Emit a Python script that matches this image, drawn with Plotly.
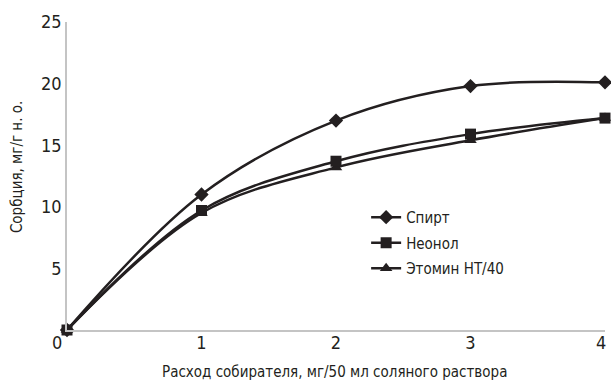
import plotly.graph_objects as go

x_vals = [0, 1, 2, 3, 4]
spirt = [0, 11.0, 17.0, 19.8, 20.1]
neonol = [0, 9.7, 13.7, 15.9, 17.2]
etomin = [0, 9.5, 13.2, 15.4, 17.2]
names = ["Спирт", "Неонол", "Этомин НТ/40"]
symbols = ["diamond", "square", "triangle-up"]
y_ticks = [5, 10, 15, 20, 25]
x_ticks = [1, 2, 3]
corner_labels = ["0", "4"]
x_title = "Расход собирателя, мг/50 мл соляного раствора"
y_title = "Сорбция, мг/г н. о."

FONT = "DejaVu Sans Condensed, sans-serif"
INK = "#231f20"
AX = "#c4c4c4"

series = [spirt, neonol, etomin]
# draw order: Спирт, Этомин, Неонол (square on top); legend order kept by rank
order = [0, 2, 1]
fig = go.Figure()
for i in order:
    fig.add_trace(go.Scatter(
        x=x_vals, y=series[i], name=names[i], mode="lines+markers",
        legendrank=i + 1, legendgroup=names[i],
        line=dict(color=INK, width=2.5, shape="spline", smoothing=1),
        marker=dict(symbol=symbols[i], size=11, color=INK),
        cliponaxis=False,
    ))

fig.update_layout(
    width=611, height=385,
    margin=dict(l=67, r=6, t=22, b=55),
    paper_bgcolor="white", plot_bgcolor="white",
    font=dict(family=FONT, color=INK, size=15),
    showlegend=True,
    legend=dict(x=0.556, y=0.419, xanchor="left", yanchor="top",
                bgcolor="rgba(0,0,0,0)", font=dict(size=15, family=FONT, color=INK),
                tracegroupgap=3, itemwidth=30),
    xaxis=dict(range=[0, 4], tickvals=x_ticks, showgrid=False, zeroline=False,
               showline=True, linecolor=AX, linewidth=1.5, ticks="",
               automargin=False, ticklabelstandoff=-4,
               tickfont=dict(size=18, family=FONT, color=INK)),
    yaxis=dict(range=[0, 25], tickvals=y_ticks, showgrid=False, zeroline=False,
               showline=True, linecolor=AX, linewidth=1.5, ticks="",
               automargin=False,
               tickfont=dict(size=18, family=FONT, color=INK)),
    annotations=[
        dict(text=corner_labels[0], xref="paper", yref="paper", x=-0.0186, y=-0.042,
             showarrow=False, font=dict(size=18, family=FONT, color=INK),
             xanchor="center", yanchor="middle"),
        dict(text=corner_labels[1], xref="paper", yref="paper", x=0.9926, y=-0.042,
             showarrow=False, font=dict(size=18, family=FONT, color=INK),
             xanchor="center", yanchor="middle"),
        dict(text=x_title, xref="paper", yref="paper", x=0.497, y=-0.136,
             showarrow=False, font=dict(size=15, family=FONT, color=INK),
             xanchor="center", yanchor="middle"),
        dict(text=y_title, xref="paper", yref="paper", x=-0.0929, y=0.529,
             textangle=-90, showarrow=False, font=dict(size=15, family=FONT, color=INK),
             xanchor="center", yanchor="middle"),
    ],
)

fig.write_html("out.html",
               config={"displayModeBar": False},
               post_script="document.body.style.margin='0';document.body.style.overflow='hidden';")
